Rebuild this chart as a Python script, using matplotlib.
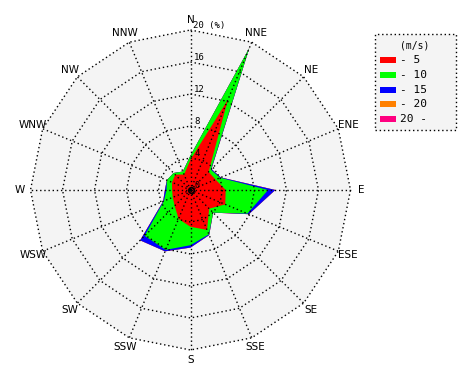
import numpy as np
import matplotlib
matplotlib.use('Agg')
import matplotlib.pyplot as plt
from matplotlib.patches import Polygon, Rectangle

# wind rose data: frequency (%) per direction and speed class
directions = ['N', 'NNE', 'NE', 'ENE', 'E', 'ESE', 'SE', 'SSE',
              'S', 'SSW', 'SW', 'WSW', 'W', 'WNW', 'NW', 'NNW']
speed_lt5 = [3.8, 12.2, 3.2, 3.4, 4.4, 4.7, 3.3, 5.4,
             4.6, 3.9, 2.8, 2.4, 2.3, 2.5, 2.7, 2.1]
speed_5_10 = [0.5, 7.0, 0.4, 0.6, 5.3, 3.0, 0.7, 0.6,
              2.3, 4.2, 5.3, 1.2, 0.7, 0.7, 0.3, 0.4]
speed_10_15 = [0.0, 0.0, 0.1, 0.1, 0.9, 0.2, 0.0, 0.1,
               0.3, 0.2, 0.8, 0.1, 0.2, 0.0, 0.0, 0.0]
speed_15_20 = [0.0] * 16
speed_gt20 = [0.0] * 16

class_labels = ['- 5', '- 10', '- 15', '- 20', '20 -']
class_colors = ['#ff0000', '#00ff00', '#0000ff', '#ff8000', '#ff0080']
ring_values = [4, 8, 12, 16, 20]

W, H = 470, 380
CX, CY = 190.5, 190.0   # centre in pixels
SCALE = 8.0             # pixels per percent

fig = plt.figure(figsize=(W / 100, H / 100), dpi=100, facecolor='white')
ax = fig.add_axes([0, 0, 1, 1])
ax.set_xlim(-CX / SCALE, (W - CX) / SCALE)
ax.set_ylim(-(H - CY) / SCALE, CY / SCALE)
ax.axis('off')


def to_xy(r, idx):
    ang = np.deg2rad(np.asarray(idx) * 22.5)
    return np.asarray(r) * np.sin(ang), np.asarray(r) * np.cos(ang)


idx = np.arange(len(directions))
rmax = ring_values[-1]

# grey background of the rose
bx, by = to_xy(np.full(16, rmax), idx)
ax.add_patch(Polygon(np.column_stack([bx, by]), closed=True,
                     facecolor='#f4f4f4', edgecolor='none', zorder=0))

# stacked areas, biggest first
layers = np.cumsum([speed_lt5, speed_5_10, speed_10_15, speed_15_20, speed_gt20], axis=0)
for k in range(len(layers) - 1, -1, -1):
    x, y = to_xy(layers[k], idx)
    ax.add_patch(Polygon(np.column_stack([x, y]), closed=True,
                         facecolor=class_colors[k], edgecolor='none', zorder=1))

# dotted grid: polygon rings and spokes
dots = dict(color='black', lw=1.0, linestyle=(0, (1, 2)), zorder=2)
for rv in ring_values:
    x, y = to_xy(np.full(17, rv), np.arange(17))
    ax.plot(x, y, **dots)
for i in idx:
    x, y = to_xy([0, rmax], [i, i])
    ax.plot(x, y, **dots)
ax.plot(0, 0, 'o', ms=4, mfc='none', mec='black', mew=1.2, zorder=3)

# ring labels along the N axis
for rv in ring_values[:-1]:
    ax.text(0.45, rv + 0.05, str(rv), fontsize=6.5, family='DejaVu Sans Mono',
            ha='left', va='bottom', zorder=4)
ax.text(0.35, rmax + 0.05, '20 (%)', fontsize=6.5, family='DejaVu Sans Mono',
        ha='left', va='bottom', zorder=4)
ax.text(0.55, 0.05, '0', fontsize=6, family='DejaVu Sans Mono',
        ha='left', va='bottom', zorder=4)

# direction labels
for i, name in enumerate(directions):
    x, y = to_xy(21.3, i)
    ax.text(x, y, name, fontsize=7.5, ha='center', va='center')


# legend drawn in pixel positions
def fx(px):
    return px / W


def fy(py):
    return 1 - py / H


fig.patches.append(Rectangle((fx(375), fy(130)), fx(456) - fx(375), fy(34) - fy(130),
                             transform=fig.transFigure, facecolor='#f4f4f4',
                             edgecolor='black', lw=1.0, linestyle=(0, (1, 2))))
fig.text(fx(415), fy(46), '(m/s)', fontsize=7, family='DejaVu Sans Mono',
         ha='center', va='center')
for k, (lab, col) in enumerate(zip(class_labels, class_colors)):
    py = 60 + k * 14.8
    fig.patches.append(Rectangle((fx(380), fy(py + 3)), fx(396) - fx(380), fy(py - 3) - fy(py + 3),
                                 transform=fig.transFigure, facecolor=col, edgecolor='none'))
    fig.text(fx(400), fy(py), lab, fontsize=8, family='DejaVu Sans Mono',
             ha='left', va='center')

fig.savefig('out.png', dpi=100, facecolor='white')
